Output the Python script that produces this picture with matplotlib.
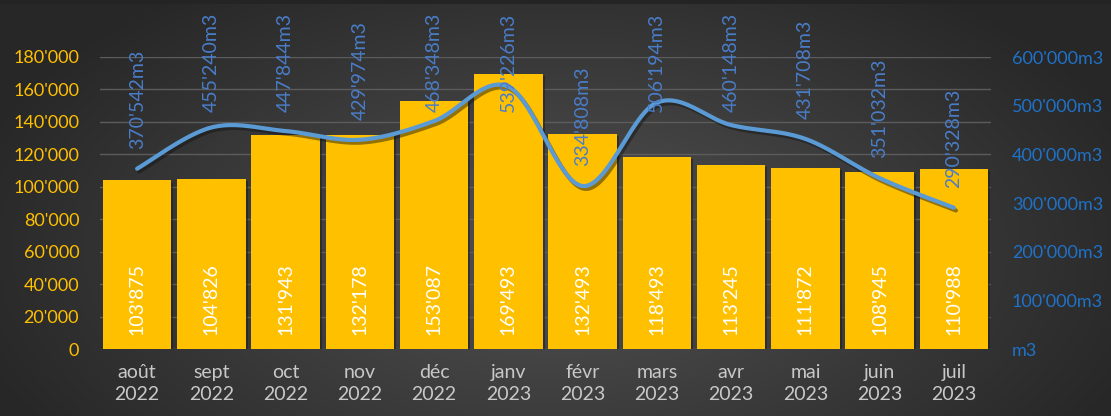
import matplotlib
matplotlib.use("Agg")
import matplotlib.pyplot as plt
import matplotlib.patheffects as pe
import numpy as np

months = ["août\n2022", "sept\n2022", "oct\n2022", "nov\n2022", "déc\n2022", "janv\n2023",
          "févr\n2023", "mars\n2023", "avr\n2023", "mai\n2023", "juin\n2023", "juil\n2023"]
bar_values = [103875, 104826, 131943, 132178, 153087, 169493,
              132493, 118493, 113245, 111872, 108945, 110988]
line_values = [370542, 455240, 447844, 429974, 468348, 539226,
               334808, 506194, 460148, 431708, 351032, 290328]
left_ticks = [0, 20000, 40000, 60000, 80000, 100000, 120000, 140000, 160000, 180000]
right_ticks = [0, 100000, 200000, 300000, 400000, 500000, 600000]

FONT = ["Lato", "DejaVu Sans"]
plt.rcParams['font.family'] = FONT

def fmt(v):
    return f"{v:,}".replace(",", "'")

W, H = 1111, 416
fig = plt.figure(figsize=(W / 100, H / 100), dpi=100)

# background radial gradient
bg = fig.add_axes([0, 0, 1, 1], zorder=-10)
yy, xx = np.mgrid[0:H, 0:W]
cx, cy = 560, 250
r = np.sqrt(((xx - cx) / 620.0) ** 2 + ((yy - cy) / 330.0) ** 2)
r = np.clip(r, 0, 1)
c0 = np.array([0x52, 0x52, 0x52]) / 255.0
c1 = np.array([0x27, 0x27, 0x27]) / 255.0
img = c0[None, None, :] * (1 - r[..., None]) + c1[None, None, :] * r[..., None]
img[0:4, :, :] = np.array([0x24, 0x24, 0x24]) / 255.0
bg.imshow(img, aspect='auto', extent=[0, W, H, 0])
bg.set_axis_off()

ax = fig.add_axes([100 / W, 1 - 349 / H, 891 / W, (349 - 57) / H])
ax.patch.set_alpha(0)
x = np.arange(len(months))

ax.set_ylim(0, 180000)
ax.set_xlim(-0.5, len(months) - 0.5)
ax.set_yticks(left_ticks)
ax.set_yticklabels([fmt(t) for t in left_ticks])
ax.yaxis.grid(True, color="#5c5c5c", lw=1.0)
ax.set_axisbelow(True)
for s in ax.spines.values():
    s.set_visible(False)
ax.tick_params(axis='y', length=0, pad=15, labelcolor="#FFC000", labelsize=13)
ax.tick_params(axis='x', length=0, pad=11, labelcolor="#C8C8C8", labelsize=14)
ax.set_xticks(x)
ax.set_xticklabels(months, linespacing=1.35)

bars = ax.bar(x, bar_values, width=0.92, color="#FFC000", zorder=2,
              path_effects=[pe.SimplePatchShadow(offset=(1.5, -1.5), shadow_rgbFace="#1a1a1a", alpha=0.5),
                            pe.Normal()])
for xi, v in zip(x, bar_values):
    ax.text(xi, 8600, fmt(v), rotation=90, ha='center', va='bottom',
            color="white", fontsize=14, zorder=5)

ax2 = ax.twinx()
ax2.set_ylim(0, 600000)
ax2.set_yticks(right_ticks)
ax2.set_yticklabels(["m3" if t == 0 else fmt(t) + "m3" for t in right_ticks])
for s in ax2.spines.values():
    s.set_visible(False)
ax2.tick_params(axis='y', length=0, pad=15, labelcolor="#1F72C8", labelsize=13)

# smooth (Catmull-Rom) line like Excel's smoothed line
px = x.astype(float)
py = np.array(line_values, dtype=float)
P = np.column_stack([px, py])
ext = np.vstack([P[0], P, P[-1]])
curve = []
for i in range(len(P) - 1):
    p0, p1, p2, p3 = ext[i], ext[i + 1], ext[i + 2], ext[i + 3]
    b1 = p1 + (p2 - p0) / 6.0
    b2 = p2 - (p3 - p1) / 6.0
    t = np.linspace(0, 1, 30)[:, None]
    seg = ((1 - t) ** 3) * p1 + 3 * ((1 - t) ** 2) * t * b1 + 3 * (1 - t) * t ** 2 * b2 + t ** 3 * p2
    curve.append(seg if i == 0 else seg[1:])
curve = np.vstack(curve)
ax2.plot(curve[:, 0], curve[:, 1], color="#5B9BD5", lw=3, zorder=4, solid_capstyle='round',
         path_effects=[pe.SimpleLineShadow(offset=(1.5, -2), shadow_color="#111111", alpha=0.45),
                       pe.Normal()])

for xi, v in zip(x, line_values):
    yl = min(v + 41000, 487000)
    ax2.text(xi, yl, fmt(v) + "m3", rotation=90, ha='center', va='bottom',
             color="#4A7DC9", fontsize=14, zorder=6, clip_on=False)

fig.savefig("out.png", dpi=100)
